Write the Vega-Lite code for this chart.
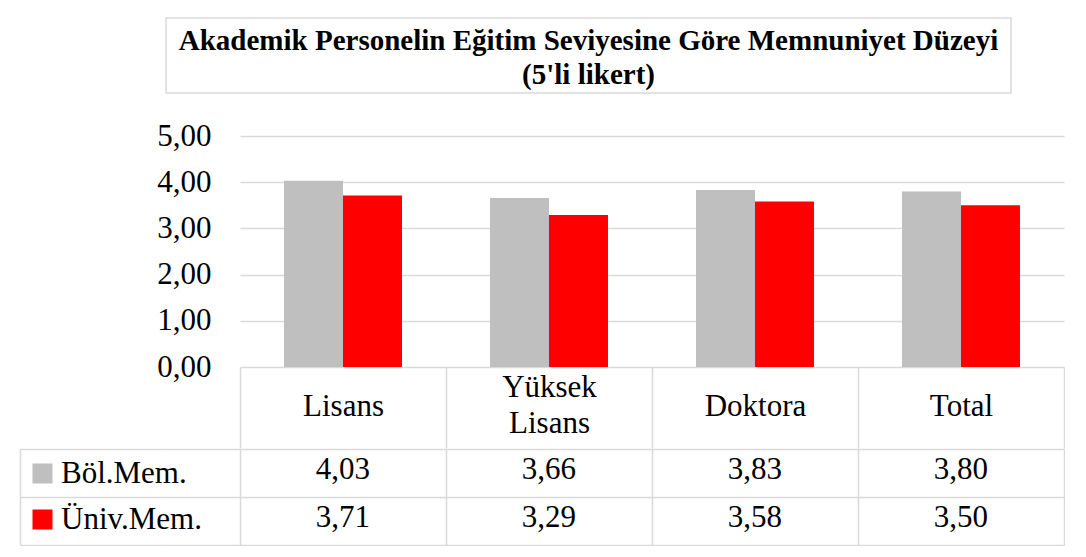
{
  "$schema": "https://vega.github.io/schema/vega-lite/v6.json",
  "padding": {"left": 19, "top": 17, "right": 0, "bottom": 0},
  "background": "white",
  "spacing": -4,
  "columns": 1,
  "config": {
    "font": "Liberation Serif",
    "locale": {"number": {"decimal": ",", "thousands": ".", "grouping": [3], "currency": ["", " TL"]}},
    "view": {"stroke": "#d9d9d9", "strokeWidth": 1.5},
    "axis": {"labelFont": "Liberation Serif", "labelColor": "#000000"}
  },
  "datasets": {
    "scores": [
      {"egitim": "Lisans", "seri": "Böl.Mem.", "deger": 4.03},
      {"egitim": "Lisans", "seri": "Üniv.Mem.", "deger": 3.71},
      {"egitim": "Yüksek Lisans", "seri": "Böl.Mem.", "deger": 3.66},
      {"egitim": "Yüksek Lisans", "seri": "Üniv.Mem.", "deger": 3.29},
      {"egitim": "Doktora", "seri": "Böl.Mem.", "deger": 3.83},
      {"egitim": "Doktora", "seri": "Üniv.Mem.", "deger": 3.58},
      {"egitim": "Total", "seri": "Böl.Mem.", "deger": 3.80},
      {"egitim": "Total", "seri": "Üniv.Mem.", "deger": 3.50}
    ],
    "baslik": [
      {"k": "t", "satirlar": ["Akademik Personelin Eğitim Seviyesine Göre Memnuniyet Düzeyi", "(5'li likert)"]}
    ]
  },
  "concat": [
    {
      "width": 845,
      "height": 75,
      "data": {"name": "baslik"},
      "mark": {"type": "text", "fontWeight": "bold", "fontSize": 29, "lineHeight": 34, "align": "center", "baseline": "middle", "dy": -15, "font": "Liberation Serif", "color": "#000000"},
      "encoding": {
        "x": {"field": "k", "type": "nominal", "title": null, "axis": {"labels": false, "ticks": false, "domain": false, "grid": false, "minExtent": 30, "maxExtent": 30}},
        "y": {"field": "k", "type": "nominal", "title": null, "axis": {"labels": false, "ticks": false, "domain": false, "grid": false, "minExtent": 140, "maxExtent": 140}},
        "text": {"field": "satirlar", "type": "nominal"}
      }
    },
    {
      "width": 898,
      "height": 231,
      "view": {"stroke": null},
      "data": {"name": "scores"},
      "mark": {"type": "bar"},
      "encoding": {
        "x": {"field": "egitim", "type": "nominal", "sort": ["Lisans", "Yüksek Lisans", "Doktora", "Total"], "scale": {"type": "band", "paddingInner": 0, "paddingOuter": 0.1796, "align": 1}, "title": null,
              "axis": {"orient": "bottom", "tickBand": "extent", "ticks": true, "tickSize": 81, "tickColor": "#d9d9d9", "tickWidth": 1.5, "domain": false, "grid": false,
                       "labelFontSize": 31, "labelAngle": 0, "labelBaseline": "middle", "labelLineHeight": 36,
                       "labelPadding": {"condition": {"test": "datum.value == 'Yüksek Lisans'", "value": -61}, "value": -42},
                       "labelExpr": "split(datum.label, ' ')"}},
        "xOffset": {"field": "seri", "type": "nominal", "sort": ["Böl.Mem.", "Üniv.Mem."], "scale": {"paddingInner": 0, "paddingOuter": 0.746}},
        "y": {"field": "deger", "type": "quantitative", "scale": {"domain": [0, 5], "nice": false}, "title": null,
              "axis": {"values": [0, 1, 2, 3, 4, 5], "format": ".2f", "labelFontSize": 31, "offset": -74, "ticks": true, "tickSize": -824, "tickColor": "#d9d9d9", "tickWidth": 1.5, "labelPadding": 853, "domain": false, "grid": false}},
        "color": {"field": "seri", "type": "nominal", "sort": ["Böl.Mem.", "Üniv.Mem."], "scale": {"range": ["#bfbfbf", "#ff0000"]},
                  "legend": {"orient": "none", "legendX": -139, "legendY": 440, "title": null, "direction": "vertical", "symbolType": "square", "symbolSize": 400, "symbolStrokeWidth": 0, "symbolOpacity": 1, "labelFontSize": 31, "labelFont": "Liberation Serif", "labelColor": "#000000", "labelOffset": 3, "rowPadding": 14, "padding": 0, "labelLimit": 300}}
      }
    },
    {
      "width": 898,
      "height": 96,
      "view": {"stroke": null},
      "data": {"name": "scores"},
      "mark": {"type": "text", "fontSize": 31, "font": "Liberation Serif", "color": "#000000", "baseline": "middle", "dy": -3},
      "encoding": {
        "x": {"field": "egitim", "type": "nominal", "sort": ["Lisans", "Yüksek Lisans", "Doktora", "Total"], "scale": {"type": "band", "paddingInner": 0, "paddingOuter": 0.1796, "align": 1}, "title": null,
              "axis": {"tickBand": "extent", "labels": false, "ticks": false, "grid": true, "gridColor": "#d9d9d9", "gridWidth": 1.5, "domain": false}},
        "y": {"field": "seri", "type": "nominal", "sort": ["Böl.Mem.", "Üniv.Mem."], "scale": {"type": "band", "paddingInner": 0, "paddingOuter": 0}, "title": null,
              "axis": {"labels": false, "tickBand": "extent", "ticks": true, "tickSize": -146, "offset": 146, "tickColor": "#d9d9d9", "tickWidth": 1.5, "domain": true, "domainColor": "#d9d9d9", "domainWidth": 1.5, "grid": true, "gridColor": "#d9d9d9", "gridWidth": 1.5}},
        "text": {"field": "deger", "type": "quantitative", "format": ".2f"}
      }
    }
  ]
}
